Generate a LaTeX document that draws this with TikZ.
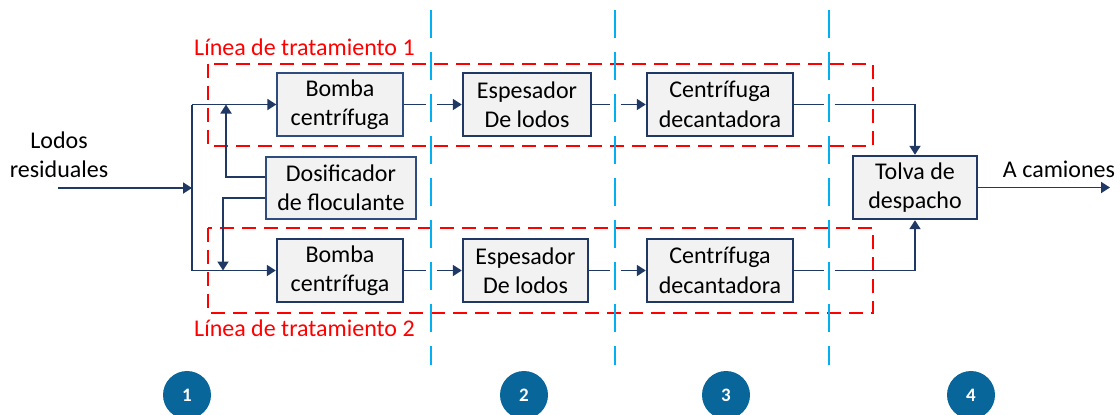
\documentclass[tikz,border=0pt]{standalone}
\usepackage{fontspec}
\setmainfont{Carlito}
\usetikzlibrary{arrows.meta}
\definecolor{navy}{HTML}{1F3864}
\definecolor{thinedge}{HTML}{2E4C7E}
\definecolor{boxgray}{HTML}{F2F2F2}
\definecolor{sepblue}{HTML}{00B0F0}
\definecolor{numblue}{HTML}{08669A}
\definecolor{linered}{HTML}{FF0000}
\begin{document}
\begin{tikzpicture}[x=1pt,y=-1pt,
  txt/.style={font=\fontsize{24}{29.3}\selectfont},
  box/.style={txt,draw=navy,line width=2.4pt,fill=boxgray,inner sep=0pt,align=center},
  thinbox/.style={box,draw=thinedge,line width=1.3pt},
  flow/.style={draw=navy,line width=1.8pt},
  arr/.style={flow,-{Triangle[length=9pt,width=11pt]}},
  redbox/.style={draw=linered,line width=1.8pt,dash pattern=on 14pt off 8pt},
  sepline/.style={draw=sepblue,line width=2pt,dash pattern=on 28pt off 14pt},
  num/.style={circle,fill=numblue,minimum size=48pt,inner sep=0pt,text=white,font=\fontsize{19}{19}\selectfont\bfseries}]
\useasboundingbox (0,0) rectangle (1120,415);
\clip (0,0) rectangle (1120,415);

% red dashed treatment lines
\draw[redbox] (208,64) rectangle (873,146);
\draw[redbox] (208,228) rectangle (873,313);
\node[txt,text=linered,anchor=base west,inner sep=0pt] (l1) at (194,55) {Línea de tratamiento 1};
\node[txt,text=linered,anchor=base west,inner sep=0pt] (l2) at (194,336) {Línea de tratamiento 2};

% separators
\coordinate (g1) at (431,0);
\coordinate (g2) at (615,0);
\coordinate (g3) at (829,0);
\draw[sepline] (431,10) -- (431,365);
\draw[sepline] (615,10) -- (615,365);
\draw[sepline] (829,10) -- (829,365);

% boxes
\node[thinbox,minimum width=126pt,minimum height=63pt] (b1) at (340,104.5) {Bomba\\centrífuga};
\node[box,minimum width=128pt,minimum height=63pt] (e1) at (527,104.5) {Espesador\\De lodos};
\node[box,minimum width=146pt,minimum height=63pt] (c1) at (720,104.5) {Centrífuga\\decantadora};
\node[thinbox,minimum width=150pt,minimum height=62pt] (dos) at (341,188) {Dosificador\\de floculante};
\node[box,minimum width=126pt,minimum height=63pt] (b2) at (340,270.5) {Bomba\\centrífuga};
\node[box,minimum width=125pt,minimum height=63pt] (e2) at (525.5,270.5) {Espesador\\De lodos};
\node[box,minimum width=146pt,minimum height=63pt] (c2) at (720,270.5) {Centrífuga\\decantadora};
\node[box,minimum width=124pt,minimum height=63pt] (tolva) at (915,187.5) {Tolva de\\despacho};

% input
\node[txt,align=center,inner sep=0pt] (lodos) at (59,155) {Lodos\\residuales};
\coordinate (in) at (58,188);
\coordinate (jt) at (192,0);
\draw[arr] (in) -- (in -| jt);
\draw[flow] (b1.west -| jt) -- (b2.west -| jt);
\draw[arr] (b1.west -| jt) -- (b1.west);
\draw[arr] (b2.west -| jt) -- (b2.west);

% dosing
\coordinate (d1) at (226,0);
\coordinate (d2) at (223,0);
\draw[arr] ([yshift=11pt]dos.west) -| (b1.west -| d1);
\draw[arr] ([yshift=-10pt]dos.west) -| (b2.west -| d2);

% line 1 flow
\draw[arr] (b1.east) -- ([xshift=-5.5pt]b1.east -| g1) ([xshift=5.5pt]b1.east -| g1) -- (e1.west);
\draw[arr] (e1.east) -- ([xshift=-5.5pt]e1.east -| g2) ([xshift=5.5pt]e1.east -| g2) -- (c1.west);
\draw[arr] (c1.east) -- ([xshift=-5.5pt]c1.east -| g3) ([xshift=5.5pt]c1.east -| g3) -| (tolva.north);

% line 2 flow
\draw[arr] (b2.east) -- ([xshift=-5.5pt]b2.east -| g1) ([xshift=5.5pt]b2.east -| g1) -- (e2.west);
\draw[arr] (e2.east) -- ([xshift=-5.5pt]e2.east -| g2) ([xshift=5.5pt]e2.east -| g2) -- (c2.west);
\draw[arr] (c2.east) -- ([xshift=-5.5pt]c2.east -| g3) ([xshift=5.5pt]c2.east -| g3) -| (tolva.south);

% output
\coordinate (out) at (1110,187.5);
\draw[arr] (tolva.east) -- (out);
\node[txt,anchor=base,inner sep=0pt] (cam) at (1059,177) {A camiones};

% stage numbers
\node[num] (n1) at (187,395) {1};
\node[num] (n2) at (524,395) {2};
\node[num] (n3) at (726,395) {3};
\node[num] (n4) at (971,395) {4};
\end{tikzpicture}
\end{document}
